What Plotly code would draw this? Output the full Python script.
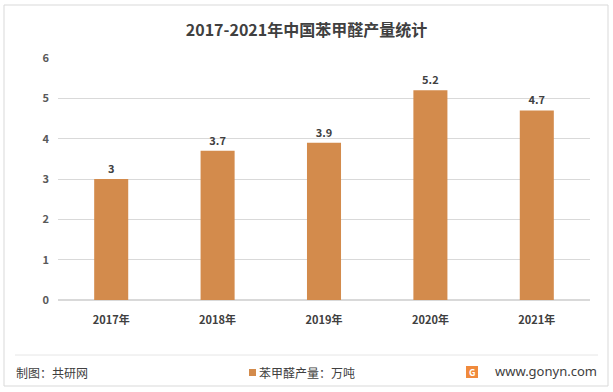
import plotly.graph_objects as go

years = ["2017年", "2018年", "2019年", "2020年", "2021年"]
values = [3, 3.7, 3.9, 5.2, 4.7]
value_labels = ["3", "3.7", "3.9", "5.2", "4.7"]
y_ticks = [0, 1, 2, 3, 4, 5, 6]
series_name = "苯甲醛产量：万吨"
title_text = "2017-2021年中国苯甲醛产量统计"
bar_color = "#D38B4C"

W, H = 613, 392
L, R, T, B = 58, 23, 58, 92
pw, ph = W - L - R, H - T - B

def px(x):
    return (x - L) / pw

def py(y):
    return (H - B - y) / ph

fig = go.Figure()
fig.add_trace(go.Bar(
    x=years, y=values, name=series_name,
    marker=dict(color=bar_color, line=dict(width=0)),
    text=["<b>" + t + "</b>" for t in value_labels], textposition="outside",
    textfont=dict(size=11, color="#404040", family="Noto Sans CJK SC"),
    cliponaxis=False,
))

fig.update_layout(
    width=W, height=H,
    margin=dict(l=L, r=R, t=T, b=B, autoexpand=False),
    paper_bgcolor="white", plot_bgcolor="white",
    font=dict(family="Noto Sans CJK SC", color="#595959", size=11),
    title=dict(text="<b>" + title_text + "</b>", x=0.5, xanchor="center",
               y=1 - 30 / H, yanchor="middle",
               font=dict(size=16, color="#404040", family="Noto Sans CJK SC")),
    xaxis=dict(showgrid=False, showline=False, ticks="", automargin=False,
               tickmode="array", tickvals=years, ticktext=["<b>" + y + "</b>" for y in years],
               ticklabelstandoff=12,
               tickfont=dict(size=11, color="#404040")),
    yaxis=dict(range=[0, 6], tickmode="array", tickvals=y_ticks,
               ticktext=["<b>%d</b>" % v for v in y_ticks],
               showgrid=True, gridcolor="#D9D9D9", gridwidth=1,
               zeroline=True, zerolinecolor="#D9D9D9", showline=False, ticks="",
               automargin=False,
               tickfont=dict(size=11, color="#595959"), ticklabelstandoff=8),
    showlegend=False,
    bargap=0.68,
)

fig.add_shape(type="rect", xref="paper", yref="paper",
              x0=px(4), x1=px(608), y0=py(386), y1=py(5),
              line=dict(color="#D9D9D9", width=1), fillcolor="rgba(0,0,0,0)", layer="below")
fig.add_shape(type="line", xref="paper", yref="paper",
              x0=px(15), x1=px(598), y0=py(355), y1=py(355),
              line=dict(color="#E6E6E6", width=1))

# legend (square + label)
fig.add_shape(type="rect", xref="paper", yref="paper",
              x0=px(249), x1=px(256), y0=py(376), y1=py(369),
              line=dict(width=0), fillcolor=bar_color)
fig.add_annotation(text=series_name, xref="paper", yref="paper",
                   x=px(257), y=py(372), xanchor="left", yanchor="middle", showarrow=False,
                   font=dict(size=12, color="#404040"))

fig.add_annotation(text="制图：共研网", xref="paper", yref="paper",
                   x=px(14), y=py(372), xanchor="left", yanchor="middle", showarrow=False,
                   font=dict(size=12, color="#404040"))
fig.add_annotation(text="www.gonyn.com", xref="paper", yref="paper",
                   x=px(599), y=py(371), xanchor="right", yanchor="middle", showarrow=False,
                   font=dict(size=13, color="#404040", family="Noto Sans"))
fig.add_shape(type="rect", xref="paper", yref="paper",
              x0=px(466), x1=px(478), y0=py(378), y1=py(366),
              line=dict(width=0), fillcolor="#F08A3C")
fig.add_annotation(text="<b>G</b>", xref="paper", yref="paper",
                   x=px(472), y=py(372), xanchor="center", yanchor="middle", showarrow=False,
                   font=dict(size=9, color="white"))

fig.write_html("out.html", config={"displayModeBar": False},
               post_script="document.body.style.margin='0';")
